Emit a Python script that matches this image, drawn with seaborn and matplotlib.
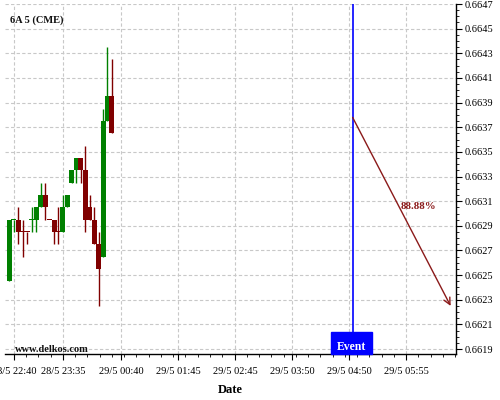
import pandas as pd
import matplotlib
matplotlib.use('Agg')
import matplotlib.pyplot as plt
import matplotlib.dates as mdates
import matplotlib.transforms as mtransforms
from matplotlib.ticker import MultipleLocator, FixedLocator, AutoMinorLocator
import seaborn as sns

# 5-minute candles, 6A (CME)
times = ['2024-05-28 22:35', '2024-05-28 22:40', '2024-05-28 22:45', '2024-05-28 22:50',
         '2024-05-28 22:55', '2024-05-28 23:00', '2024-05-28 23:05', '2024-05-28 23:10',
         '2024-05-28 23:15', '2024-05-28 23:20', '2024-05-28 23:25', '2024-05-28 23:30',
         '2024-05-28 23:35', '2024-05-28 23:40', '2024-05-28 23:45', '2024-05-28 23:50',
         '2024-05-28 23:55', '2024-05-29 00:00', '2024-05-29 00:05', '2024-05-29 00:10',
         '2024-05-29 00:15', '2024-05-29 00:20', '2024-05-29 00:25', '2024-05-29 00:30']
opens = [0.66245, 0.66295, 0.66295, 0.66285, 0.66285, 0.66295, 0.66295, 0.66305,
         0.66315, 0.66295, 0.66295, 0.66285, 0.66285, 0.66305, 0.66325, 0.66335,
         0.66345, 0.66335, 0.66305, 0.66295, 0.66275, 0.66265, 0.66375, 0.66395]
highs = [0.66295, 0.66295, 0.66305, 0.66295, 0.66285, 0.66305, 0.66305, 0.66325,
         0.66325, 0.66295, 0.66295, 0.66305, 0.66315, 0.66315, 0.66335, 0.66345,
         0.66345, 0.66355, 0.66315, 0.66305, 0.66285, 0.66385, 0.66435, 0.66425]
lows = [0.66245, 0.66285, 0.66275, 0.66265, 0.66275, 0.66285, 0.66285, 0.66305,
        0.66295, 0.66295, 0.66275, 0.66275, 0.66285, 0.66305, 0.66325, 0.66325,
        0.66325, 0.66285, 0.66295, 0.66275, 0.66225, 0.66265, 0.66375, 0.66365]
closes = [0.66295, 0.66295, 0.66285, 0.66285, 0.66285, 0.66295, 0.66305, 0.66315,
          0.66305, 0.66295, 0.66285, 0.66285, 0.66305, 0.66315, 0.66335, 0.66345,
          0.66335, 0.66295, 0.66295, 0.66275, 0.66255, 0.66375, 0.66395, 0.66365]
up = [True, True, False, False, False, True, True, True,
      False, False, False, False, True, True, True, True,
      False, False, False, False, False, True, True, False]

event_time = '2024-05-29 05:00'
arrow_start = ('2024-05-29 05:00', 0.66378)
arrow_end = ('2024-05-29 06:50', 0.66225)
pct_label = '88.88%'
pct_pos = ('2024-05-29 05:54', 0.66306)

tick_times = ['2024-05-28 22:40', '2024-05-28 23:35', '2024-05-29 00:40', '2024-05-29 01:44',
              '2024-05-29 02:48', '2024-05-29 03:52', '2024-05-29 04:56', '2024-05-29 06:00']
tick_labels = ['28/5 22:40', '28/5 23:35', '29/5 00:40', '29/5 01:45',
               '29/5 02:45', '29/5 03:50', '29/5 04:50', '29/5 05:55']
price_ticks = [0.6619, 0.6621, 0.6623, 0.6625, 0.6627, 0.6629, 0.6631,
               0.6633, 0.6635, 0.6637, 0.6639, 0.6641, 0.6643, 0.6645, 0.6647]

df = pd.DataFrame({'time': pd.to_datetime(times), 'open': opens, 'high': highs,
                   'low': lows, 'close': closes, 'up': up})
df['x'] = mdates.date2num(df['time'])
df['color'] = df['up'].map({True: '#008000', False: '#800000'})
df['bottom'] = df[['open', 'close']].min(axis=1)
df['height'] = (df['open'] - df['close']).abs().clip(lower=0.000008)

sns.set_theme(style='white')
plt.rcParams['font.family'] = ['Liberation Serif', 'DejaVu Serif']

fig = plt.figure(figsize=(5, 4), dpi=100)
ax = fig.add_axes([0.01, 0.115, 0.902, 0.875])

# wicks and bodies
ax.vlines(df['x'], df['low'], df['high'], colors=df['color'], linewidth=1.0, zorder=3)
ax.bar(df['x'], df['height'], bottom=df['bottom'], width=5.6 / 1440,
       color=df['color'], linewidth=0, zorder=4)

# event marker
ex = mdates.date2num(pd.Timestamp(event_time))
box_h = 22 / 350
ax.axvline(ex, ymin=box_h, ymax=1, color='#0000ff', linewidth=1.2, zorder=5)
trans = mtransforms.blended_transform_factory(ax.transData, ax.transAxes)
ax.add_patch(plt.Rectangle((ex - 24 / 1440, 0), 46 / 1440, box_h, transform=trans,
                           color='#0000ff', zorder=6, clip_on=False))
ax.text(ex - 1 / 1440, box_h / 2 - 0.01, 'Event', transform=trans, ha='center', va='center',
        color='white', fontsize=8.5, fontweight='bold', zorder=7)

# projection arrow
x0 = mdates.date2num(pd.Timestamp(arrow_start[0]))
x1 = mdates.date2num(pd.Timestamp(arrow_end[0]))
ax.annotate('', xy=(x1, arrow_end[1]), xytext=(x0, arrow_start[1]),
            arrowprops=dict(arrowstyle='->', color='#8b1a1a', lw=1.0,
                            mutation_scale=12, shrinkA=0, shrinkB=0), zorder=5)
ax.text(mdates.date2num(pd.Timestamp(pct_pos[0])), pct_pos[1], pct_label,
        color='#8b1a1a', fontsize=7.8, fontweight='bold', ha='left', va='center', zorder=6)

# axes limits and ticks
ax.set_xlim(mdates.date2num(pd.Timestamp('2024-05-28 22:30')),
            mdates.date2num(pd.Timestamp('2024-05-29 06:56')))
ax.set_ylim(0.66186, 0.66470)

ax.xaxis.set_major_locator(FixedLocator(mdates.date2num(pd.to_datetime(tick_times))))
ax.set_xticklabels(tick_labels)
ax.xaxis.set_minor_locator(AutoMinorLocator(4))
ax.yaxis.tick_right()
ax.yaxis.set_major_locator(FixedLocator(price_ticks))
ax.yaxis.set_minor_locator(MultipleLocator(0.00005))
ax.yaxis.set_major_formatter(matplotlib.ticker.FormatStrFormatter('%.4f'))

ax.tick_params(axis='both', which='major', labelsize=7.5, length=4, width=0.8,
               color='black', labelcolor='black', pad=2)
ax.tick_params(axis='x', which='major', pad=5)
ax.tick_params(axis='both', which='minor', length=2, width=0.6, color='black')
ax.tick_params(axis='x', which='both', bottom=True)
ax.tick_params(axis='y', which='both', right=True, left=False)

ax.grid(True, which='major', color='#c8c8c8', linestyle=(0, (3, 2)), linewidth=0.8)
for s in ['left', 'top']:
    ax.spines[s].set_visible(False)
for s in ['bottom', 'right']:
    ax.spines[s].set_color('black')
    ax.spines[s].set_linewidth(1.0)
ax.set_facecolor('white')

ax.set_xlabel('Date', fontsize=9, fontweight='bold', color='black')
ax.xaxis.set_label_coords(0.5, -30 / 350)

ax.text(0.011, 0.954, '6A 5 (CME)', transform=ax.transAxes, fontsize=7.5,
        fontweight='bold', ha='left', va='center', color='#111111')
ax.text(0.022, 0.014, 'www.delkos.com', transform=ax.transAxes, fontsize=7.5,
        fontweight='bold', ha='left', va='center', color='#111111', zorder=7)

fig.savefig('out.png', dpi=100, facecolor='white')
